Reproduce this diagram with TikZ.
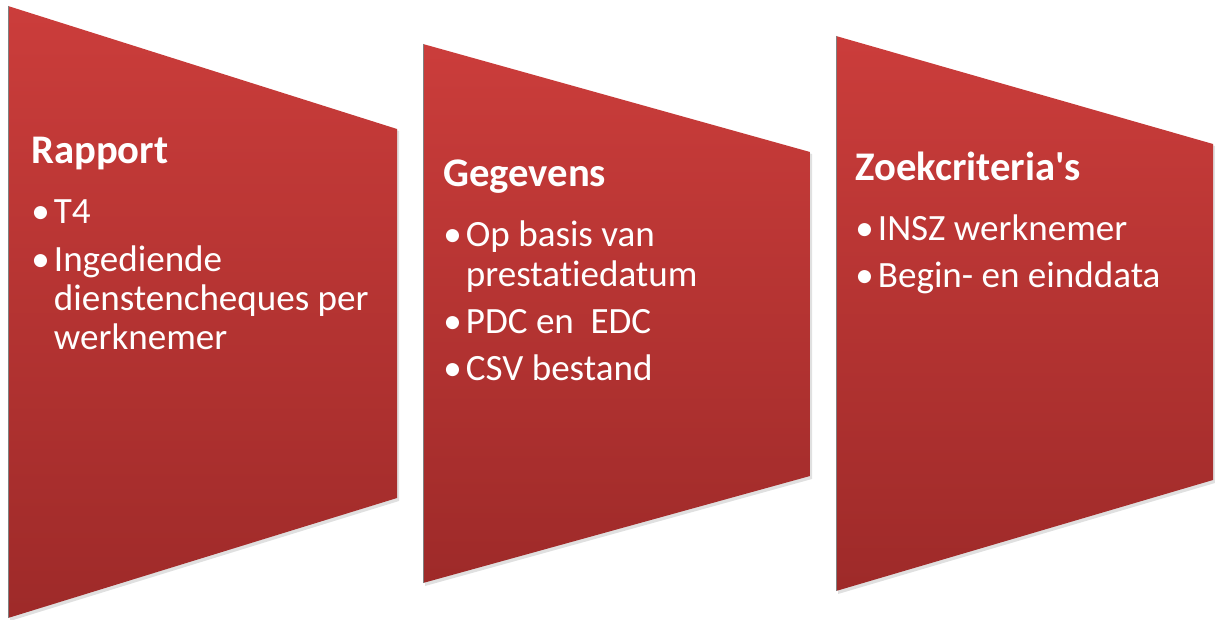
\documentclass[tikz,border=0pt]{standalone}
\usepackage{fontspec}
\setmainfont{Carlito}[Ligatures={NoCommon}]
\usepackage{tikz}

\newcommand{\itemDot}[1]{\makebox[17pt][l]{\textbullet}#1}
\newcommand{\itemMore}[1]{\hspace*{17pt}#1}
\newcommand{\panelHeading}[1]{{\fontsize{30.5}{29.6}\selectfont\bfseries #1}}

\begin{document}
\begin{tikzpicture}[x=0.75pt,y=-0.75pt]
\definecolor{panelTop}{RGB}{203,61,59}
\definecolor{panelBottom}{RGB}{158,42,41}
\tikzset{
  panelText/.style={anchor=base west, inner sep=0pt, align=left, text=white,
    font=\fontsize{27.8}{29.6}\selectfont}
}
\useasboundingbox (0,0) rectangle (1215,620);
% three panels, left edge higher than the right one
\foreach \xl/\ya/\yb/\xr/\yc/\yd in {8/6/618/397/129/498,423/44/583/810/152/476,836/36/591/1213/144/480}
{
  \fill[black, opacity=0.12] (\xl+2,\ya+2) -- (\xr+2,\yc+2) -- (\xr+2,\yd+3) -- (\xl+2,\yb+3) -- cycle;
  \shade[top color=panelTop, bottom color=panelBottom] (\xl,\ya) -- (\xr,\yc) -- (\xr,\yd) -- (\xl,\yb) -- cycle;
  \draw[gray, line width=0.6pt] (\xl,\ya) -- (\xl,\yb);
}
% text blocks, placed at the baseline of their last line
\node[panelText] (rapportTekst) at (31,350) {\panelHeading{Rapport}\\[15.4pt]
  \itemDot{T4}\\[6pt]
  \itemDot{Ingediende}\\
  \itemMore{dienstencheques per}\\
  \itemMore{werknemer}};
\node[panelText] (gegevensTekst) at (443,381) {\panelHeading{Gegevens}\\[15.4pt]
  \itemDot{Op basis van}\\
  \itemMore{prestat\kern0pt iedatum}\\[6pt]
  \itemDot{PDC en\hspace{0.45em}EDC}\\[6pt]
  \itemDot{CSV bestand}};
\node[panelText] (zoekTekst) at (855,288) {\panelHeading{Zoekcriteria\textquotesingle s}\\[15.4pt]
  \itemDot{INSZ werknemer}\\[6pt]
  \itemDot{Begin- en einddata}};
\end{tikzpicture}
\end{document}
